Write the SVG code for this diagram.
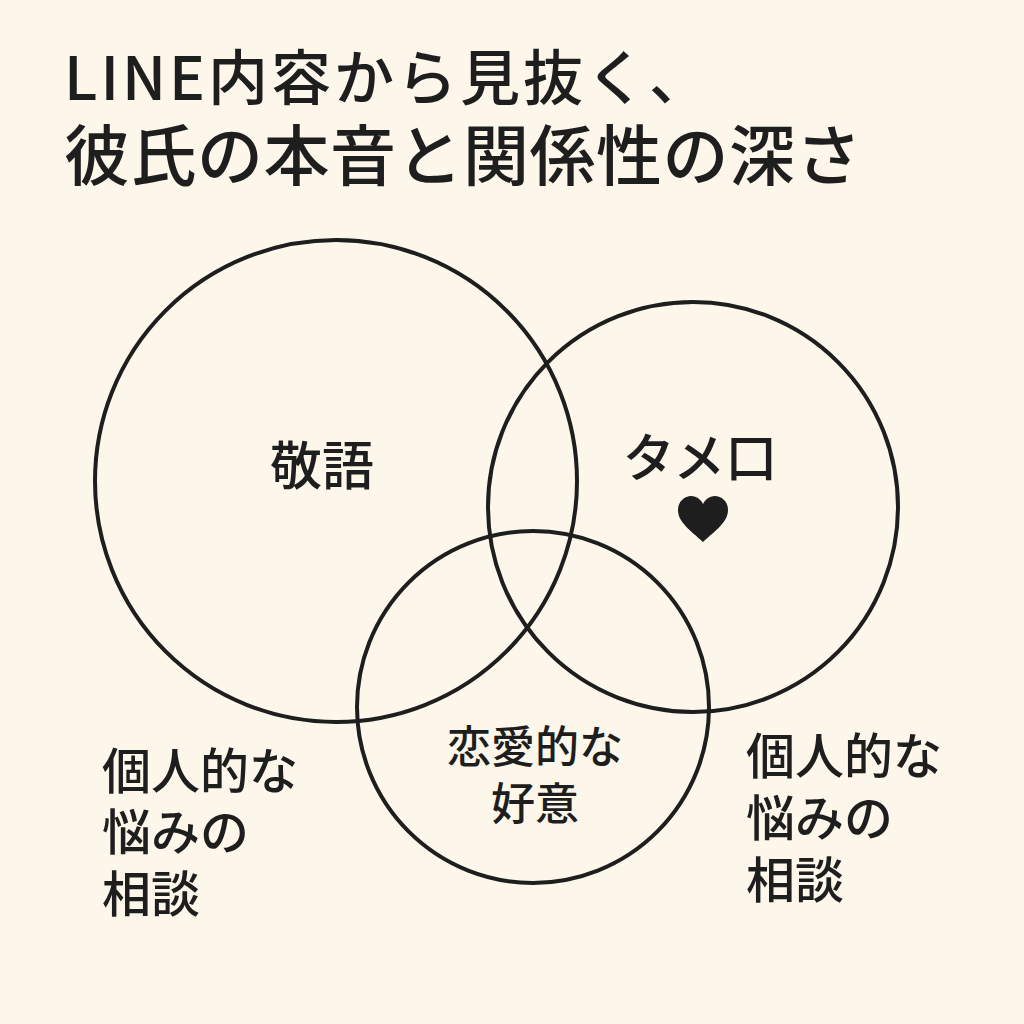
<svg xmlns="http://www.w3.org/2000/svg" width="1024" height="1024" viewBox="0 0 1024 1024">
<style>
.t{font-family:"Noto Sans CJK JP","Noto Sans",sans-serif;fill:#1e1e1e;font-weight:500}
.c{fill:none;stroke:#1e1e1e;stroke-width:4}
</style>
<rect width="1024" height="1024" fill="#fcf7ea"/>
<g id="title">
<text class="t" x="64" y="100" font-size="60" letter-spacing="3">LINE内容から見抜く、</text>
<text class="t" x="64" y="180" font-size="66" letter-spacing="0.5">彼氏の本音と関係性の深さ</text>
</g>
<g id="connectors"></g>
<g id="circle-keigo"><circle class="c" cx="336" cy="481" r="241"/><text class="t" x="322" y="485" font-size="52" text-anchor="middle">敬語</text></g>
<g id="circle-tameguchi"><circle class="c" cx="693" cy="507" r="205"/><text class="t" x="700" y="477" font-size="52" text-anchor="middle">タメ口</text><path d="M703 542 C690 530 678 522 678 510 C678 501 685 496 691 496 C697 496 701 500 703 504 C705 500 709 496 715 496 C721 496 728 501 728 510 C728 522 716 530 703 542 Z" fill="#1e1e1e"/></g>
<g id="circle-love"><circle class="c" cx="533" cy="707" r="176"/><text class="t" x="535" y="763" font-size="44" text-anchor="middle">恋愛的な</text><text class="t" x="535" y="820" font-size="44" text-anchor="middle">好意</text></g>
<g id="label-left"><text class="t" x="102" y="789" font-size="49">個人的な</text><text class="t" x="102" y="850" font-size="49">悩みの</text><text class="t" x="102" y="912" font-size="49">相談</text></g>
<g id="label-right"><text class="t" x="746" y="774" font-size="49">個人的な</text><text class="t" x="746" y="836" font-size="49">悩みの</text><text class="t" x="746" y="898" font-size="49">相談</text></g>
</svg>
